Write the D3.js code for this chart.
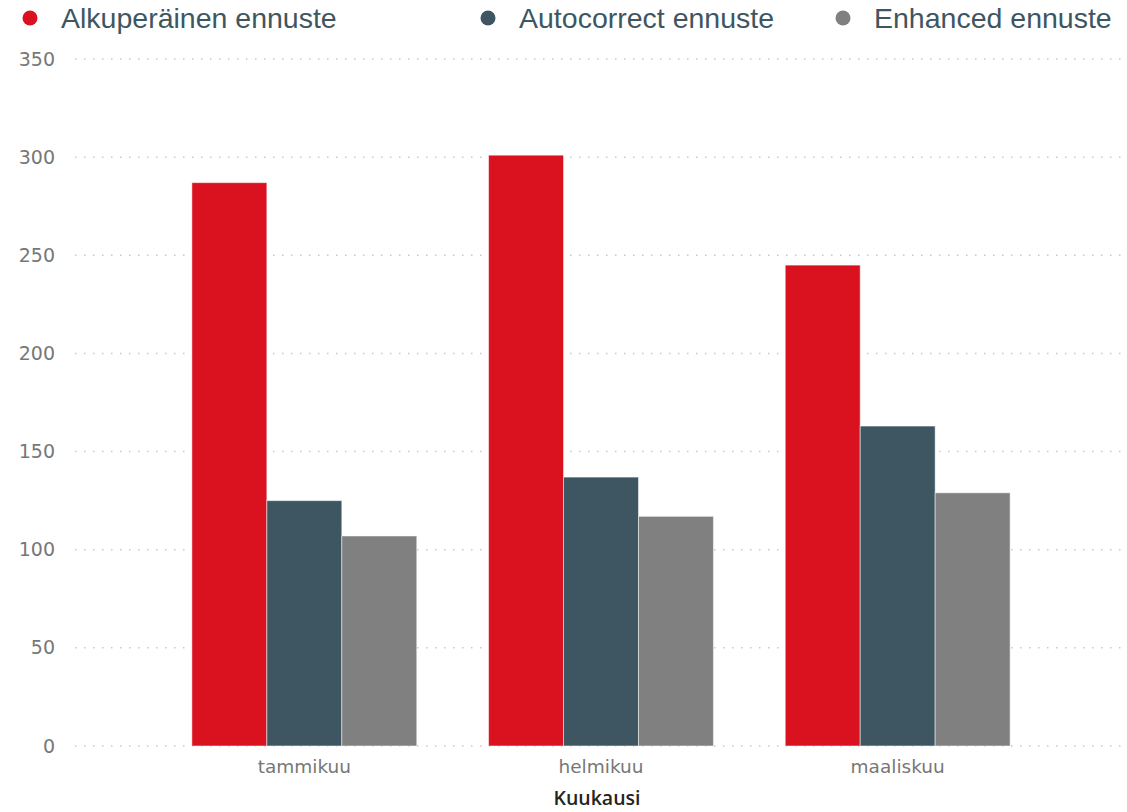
<!DOCTYPE html>
<html>
<head>
<meta charset="utf-8">
<script src="https://cdn.jsdelivr.net/npm/d3@7"></script>
<style>
  body { margin: 0; background: #fff; }
  .tick text { font-family: "DejaVu Sans", "Open Sans", sans-serif; fill: #777; }
</style>
</head>
<body>
<div id="chart"></div>
<script>
// data
var months = ["tammikuu", "helmikuu", "maaliskuu"];
var seriesNames = ["Alkuperäinen ennuste", "Autocorrect ennuste", "Enhanced ennuste"];
var alkuperainen = [287, 301, 245];
var autocorrect = [125, 137, 163];
var enhanced = [107, 117, 129];
var yTicks = [0, 50, 100, 150, 200, 250, 300, 350];

var colors = ["#DA121F", "#3E5661", "#808080"];

var svgWidth = 1127;
var svgHeight = 812;

var margin = { top: 59, right: 0, bottom: 66, left: 75 };
var width = svgWidth - margin.left - margin.right;
var height = svgHeight - margin.top - margin.bottom;

var svg = d3.select("#chart")
  .append("svg")
  .attr("width", svgWidth)
  .attr("height", svgHeight);

var chartGroup = svg.append("g")
  .attr("transform", `translate(${margin.left}, ${margin.top})`);

var chartData = months.map(function(m, i) {
  return { month: m, values: [alkuperainen[i], autocorrect[i], enhanced[i]] };
});

var xScale = d3.scaleBand()
  .domain(months)
  .range([0, width])
  .paddingInner(0.242)
  .paddingOuter(0.394);

var xInner = d3.scaleBand()
  .domain(d3.range(seriesNames.length))
  .range([0, xScale.bandwidth()]);

var yScale = d3.scaleLinear()
  .domain([0, 350])
  .range([height, 0]);

// gridlines
chartGroup.append("g")
  .selectAll("line")
  .data(yTicks)
  .join("line")
  .attr("x1", 0)
  .attr("x2", width)
  .attr("y1", d => yScale(d))
  .attr("y2", d => yScale(d))
  .attr("stroke", "#c8c8c8")
  .attr("stroke-width", 1.5)
  .attr("stroke-dasharray", "1.5,7.5");

// y axis labels
var leftAxis = d3.axisLeft(yScale).tickValues(yTicks).tickSize(0).tickPadding(20);
chartGroup.append("g")
  .call(leftAxis)
  .call(g => g.select(".domain").remove())
  .selectAll("text")
  .style("font-size", "19px");

// bars
var groups = chartGroup.append("g")
  .selectAll("g")
  .data(chartData)
  .join("g")
  .attr("transform", d => `translate(${xScale(d.month)},0)`);

groups.selectAll("rect")
  .data(d => d.values)
  .join("rect")
  .attr("x", (d, i) => xInner(i))
  .attr("y", d => yScale(d))
  .attr("width", xInner.bandwidth())
  .attr("height", d => height - yScale(d))
  .attr("fill", (d, i) => colors[i])
  .attr("stroke", "#ffffff")
  .attr("stroke-opacity", 0.5)
  .attr("stroke-width", 1);

// x axis labels
var bottomAxis = d3.axisBottom(xScale).tickSize(0).tickPadding(14);
chartGroup.append("g")
  .attr("transform", `translate(0, ${height})`)
  .call(bottomAxis)
  .call(g => g.select(".domain").remove())
  .selectAll("text")
  .style("font-size", "18.5px");

// x axis title
svg.append("text")
  .attr("x", 597)
  .attr("y", 805)
  .attr("text-anchor", "middle")
  .style("font-family", "'Open Sans', 'Noto Sans', sans-serif")
  .style("font-size", "19.5px")
  .style("font-weight", 600)
  .style("fill", "#252423")
  .text("Kuukausi");

// legend
var legendX = [30, 488, 843];
var legend = svg.append("g")
  .selectAll("g")
  .data(seriesNames)
  .join("g")
  .attr("transform", (d, i) => `translate(${legendX[i]}, 18)`);

legend.append("circle")
  .attr("r", 7.5)
  .attr("fill", (d, i) => colors[i]);

legend.append("text")
  .attr("x", 31)
  .attr("y", 10)
  .style("font-family", "'Liberation Sans', Arial, sans-serif")
  .style("font-size", "28.5px")
  .style("fill", "#3E5661")
  .text(d => d);
</script>
</body>
</html>
